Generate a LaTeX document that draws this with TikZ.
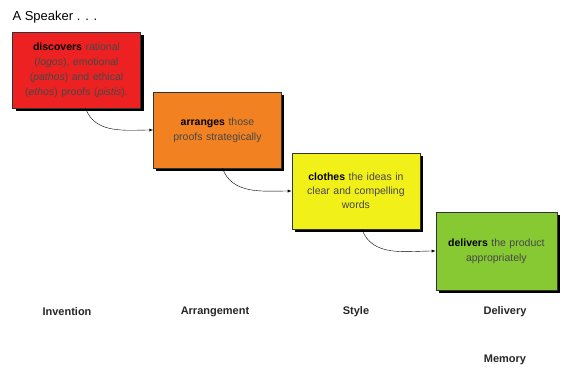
\documentclass[tikz,border=0pt]{standalone}
\usepackage{fontspec}
\setmainfont{Liberation Sans}
\usepackage{xcolor}
\usepackage{tikz}
\definecolor{speakred}{rgb}{0.93, 0.13, 0.13}
\definecolor{speakorange}{rgb}{0.95, 0.51, 0.13}
\definecolor{speakyellow}{rgb}{0.95, 0.94, 0.10}
\definecolor{speakgreen}{rgb}{0.53, 0.79, 0.20}
\usetikzlibrary{shadows}
\newcommand{\canonverb}[1]{\textbf{\textcolor{black}{#1}}}
\tikzset{
	canon/.style={draw=black!80, rectangle, align=center, text width=112pt, minimum width=128pt, minimum height=76pt, text=black!72, font=\fontsize{10.5}{15}\selectfont, drop shadow={shadow xshift=3pt, shadow yshift=-3pt, fill=black, opacity=1}},
	canonlabel/.style={font=\bfseries\fontsize{11}{13}\selectfont, text=black!85}
}

\begin{document}
\begin{tikzpicture}[x=1pt, y=-1pt, node distance=1cm]
	\useasboundingbox (0,0) rectangle (562,367);
	
	\node[anchor=west, font=\fontsize{13}{15}\selectfont] (speaker) at (9,17) {A Speaker . . .};
	
	\node[canon, fill=speakred] (invent) at (76.5,70) {\canonverb{discovers} rational\\(\textit{logos}), emotional\\(\textit{pathos}) and ethical\\(\textit{ethos}) proofs (\textit{pistis}).};
	
	\node[canon, right of= invent, xshift=112.5pt, yshift=-60pt, fill=speakorange] (arrange){\canonverb{arranges} those\\proofs strategically};
	
	\node[canon, right of= arrange, xshift=110pt, yshift=-61pt, fill=speakyellow, font=\fontsize{10.5}{14}\selectfont] (style){\canonverb{clothes} the ideas in\\clear and compelling\\words};
	
	\node[canon, right of= style, xshift=112pt, yshift=-60pt, minimum width=121pt, minimum height=78pt, fill=speakgreen] (deliver){\canonverb{delivers} the product\\appropriately};
	
	\node[canonlabel] (inventlabel) at (67,312) {Invention};
	\node[canonlabel] (arrangelabel) at (215,312) {Arrangement};
	\node[canonlabel] (stylelabel) at (356,312) {Style};
	\node[canonlabel] (deliverlabel) at (505,312) {Delivery};
	\node[canonlabel] (memorylabel) at (505,360) {Memory};
	
	\draw[-latex] ([xshift=9pt]invent.south) to[out=-70, in=180] (arrange.west);
	
	\draw[-latex] ([xshift=5pt]arrange.south) to[out=-70, in=180] (style.west);
	
	\draw[-latex] ([xshift=6pt]style.south) to[out=-70, in=180] (deliver.west);
\end{tikzpicture}
\end{document}
